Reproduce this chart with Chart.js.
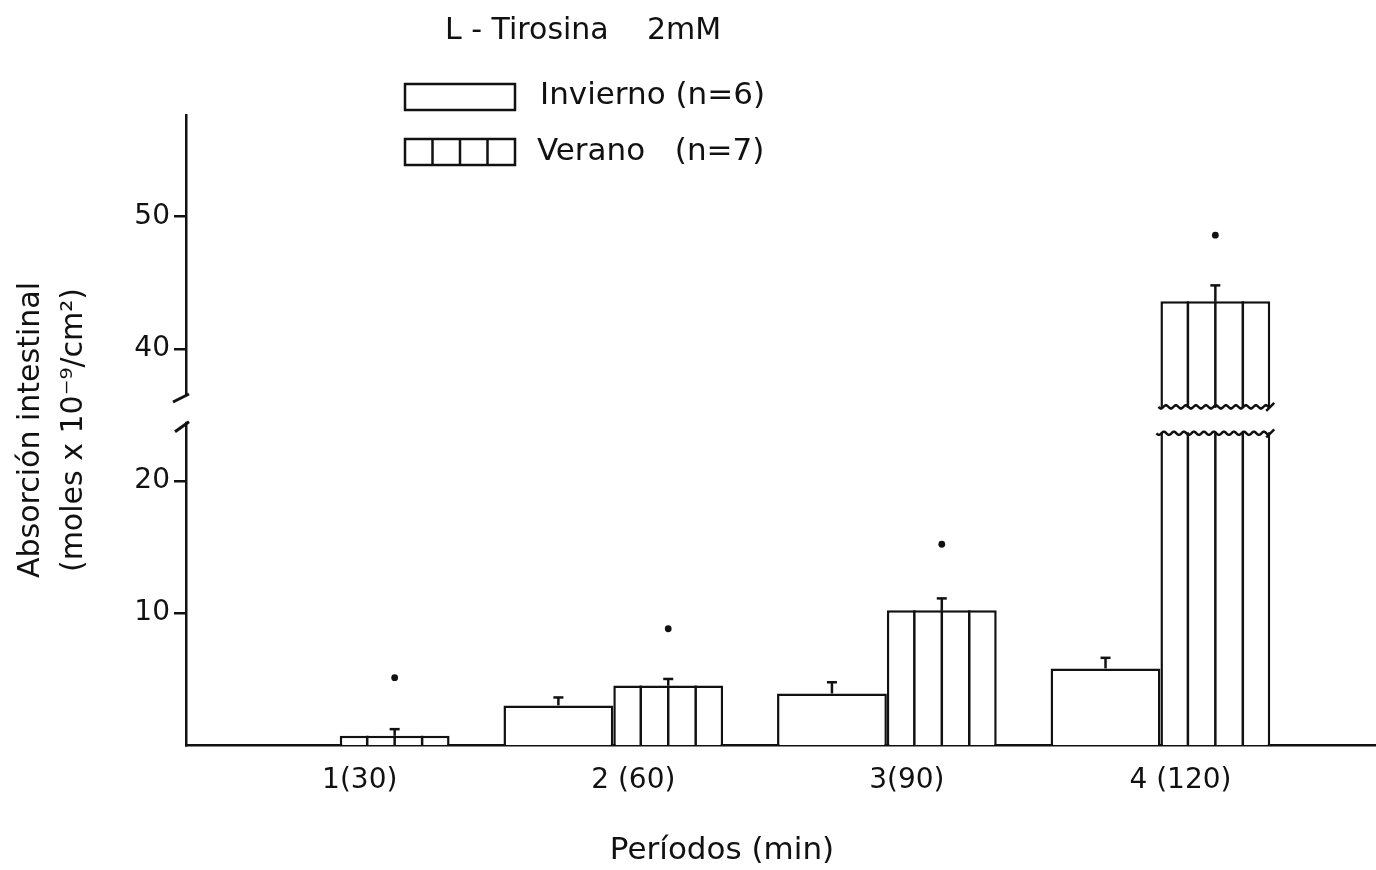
<!DOCTYPE html>
<html>
<head>
<meta charset="utf-8">
<script src="https://cdn.jsdelivr.net/npm/chart.js@4.4.1/dist/chart.umd.min.js"></script>
<style>
html,body{margin:0;padding:0;background:#fff;}
#wrap{width:1376px;height:870px;}
</style>
</head>
<body>
<div id="wrap"><canvas id="c" width="1376" height="870"></canvas></div>
<script>
// ---- data ----
const categories = ['1(30)', '2 (60)', '3(90)', '4 (120)'];
const invierno   = [0, 3.0, 3.9, 5.8];
const inviernoSE = [0, 0.6, 0.85, 0.8];
const verano     = [0.7, 4.5, 10.2, 43.6];
const veranoSE   = [0.5, 0.5, 0.9, 1.2];
const significance = [5.1, 8.8, 15.2, 48.6];   // "•" marks above Verano bars
const yTickValues = [10, 20, 40, 50];
const axisBreak = [34.4, 36.5];   // gap on the y axis (data units)
const barBreak  = [33.6, 35.6];   // gap drawn in tall bar (data units)
const BREAK_SHIFT = 10;           // values above 30 are shifted down by this

const toLin = v => v > 30 ? v - BREAK_SHIFT : v;
const fromLin = v => v > 20 ? v + BREAK_SHIFT : v;

const FONT = '"DejaVu Sans", "Liberation Sans", sans-serif';
const INK = '#111';
const LW = 2.5;

function line(ctx, x1, y1, x2, y2) { ctx.beginPath(); ctx.moveTo(x1, y1); ctx.lineTo(x2, y2); ctx.stroke(); }
function wavy(ctx, x1, x2, y) {
  ctx.beginPath();
  for (let x = x1; x <= x2; x += 1) {
    const yy = y + 1.6 * Math.sin((x - x1) / 10 * 2 * Math.PI);
    if (x === x1) ctx.moveTo(x, yy); else ctx.lineTo(x, yy);
  }
  ctx.stroke();
}

const decor = {
  id: 'decor',
  afterDatasetsDraw(chart) {
    const ctx = chart.ctx, ys = chart.scales.y;
    const mi = chart.getDatasetMeta(0), mv = chart.getDatasetMeta(1);
    ctx.save();
    ctx.strokeStyle = INK; ctx.fillStyle = INK; ctx.lineWidth = LW;
    // Verano vertical dividers
    mv.data.forEach(bar => {
      const l = bar.x - bar.width / 2;
      for (let k = 1; k < 4; k++) { const xx = l + bar.width * k / 4; line(ctx, xx, bar.y, xx, bar.base); }
    });
    // error bars
    [[mi, invierno, inviernoSE], [mv, verano, veranoSE]].forEach(([m, vals, se]) => {
      m.data.forEach((bar, i) => {
        if (!se[i]) return;
        const top = ys.getPixelForValue(toLin(vals[i] + se[i]));
        line(ctx, bar.x, bar.y, bar.x, top);
        line(ctx, bar.x - 5, top, bar.x + 5, top);
      });
    });
    // break in tall bar(s)
    mv.data.forEach((bar, i) => {
      if (verano[i] <= barBreak[1]) return;
      const yTop = ys.getPixelForValue(toLin(barBreak[1]));
      const yBot = ys.getPixelForValue(toLin(barBreak[0]));
      const l = bar.x - bar.width / 2, r = bar.x + bar.width / 2;
      ctx.fillStyle = '#fff';
      ctx.fillRect(l - 3, yTop + 1, bar.width + 6, yBot - yTop - 2);
      ctx.fillStyle = INK;
      wavy(ctx, l - 2, r, yTop);
      wavy(ctx, l - 4, r, yBot);
      line(ctx, r - 4, yTop + 4, r + 4, yTop - 4);
      line(ctx, r - 4, yBot + 4, r + 4, yBot - 4);
    });
    // significance dots
    mv.data.forEach((bar, i) => {
      ctx.beginPath();
      ctx.arc(bar.x, ys.getPixelForValue(toLin(significance[i])), 3.4, 0, Math.PI * 2);
      ctx.fill();
    });
    ctx.restore();
  },
  afterDraw(chart) {
    const ctx = chart.ctx, ys = chart.scales.y, ax = chart.chartArea.left;
    ctx.save();
    // y-axis break
    const yA = ys.getPixelForValue(toLin(axisBreak[1]));
    const yB = ys.getPixelForValue(toLin(axisBreak[0]));
    ctx.fillStyle = '#fff';
    ctx.fillRect(ax - 4, yA + 1, 8, yB - yA - 2);
    ctx.strokeStyle = INK; ctx.lineWidth = 3;
    line(ctx, ax - 13, yA + 7, ax + 3, yA - 1);
    line(ctx, ax - 11, yB + 9, ax + 3, yB - 1);
    // legend / title
    ctx.fillStyle = INK;
    ctx.textBaseline = 'middle';
    ctx.font = '30px ' + FONT;
    ctx.fillText('L - Tirosina    2mM', 445, 31);
    ctx.font = '31px ' + FONT;
    ctx.lineWidth = LW;
    ctx.strokeStyle = INK;
    ctx.strokeRect(405, 84, 110, 26);
    ctx.fillText('Invierno (n=6)', 540, 96);
    ctx.strokeRect(405, 139, 110, 26);
    for (let k = 1; k < 4; k++) { const xx = 405 + 110 * k / 4; line(ctx, xx, 139, xx, 165); }
    ctx.fillText('Verano   (n=7)', 537, 152);
    // x-axis title (centred where the original places it)
    ctx.font = '31px ' + FONT;
    ctx.textAlign = 'center';
    ctx.fillText('Períodos (min)', 722, 851);
    ctx.restore();
  }
};

new Chart(document.getElementById('c'), {
  type: 'bar',
  data: {
    datasets: [
      { label: 'Invierno (n=6)', data: invierno.map((v, i) => ({ x: i + 1, y: toLin(v) })),
        backgroundColor: '#fff', borderColor: INK, borderWidth: LW },
      { label: 'Verano (n=7)', data: verano.map((v, i) => ({ x: i + 1, y: toLin(v) })),
        backgroundColor: '#fff', borderColor: INK, borderWidth: LW }
    ]
  },
  options: {
    responsive: false,
    animation: false,
    devicePixelRatio: 1,
    layout: { padding: { top: 115, right: 0, left: 0, bottom: 0 } },
    datasets: { bar: { barPercentage: 1, categoryPercentage: 0.803 } },
    plugins: { legend: { display: false }, tooltip: { enabled: false } },
    scales: {
      x: {
        type: 'linear', min: 0.438, max: 4.788, offset: false,
        afterBuildTicks: s => { s.ticks = categories.map((c, i) => ({ value: i + 1 })); },
        afterFit: s => { s.height = 125; },
        grid: { display: false, offset: false },
        border: { color: INK, width: LW },
        ticks: { callback: v => categories[Math.round(v) - 1], color: INK, font: { family: FONT, size: 28 },
                 padding: 11, labelOffset: 20, maxRotation: 0, autoSkip: false },
        title: { display: false }
      },
      y: {
        min: 0, max: 47.7,
        afterBuildTicks: s => { s.ticks = yTickValues.map(v => ({ value: toLin(v) })); },
        afterFit: s => { s.width = 186; },
        grid: { drawOnChartArea: false, drawTicks: true, tickLength: 12, color: INK, lineWidth: LW },
        border: { color: INK, width: LW },
        ticks: { callback: v => String(fromLin(v)), color: INK, font: { family: FONT, size: 28 }, padding: 4 },
        title: { display: true, text: ['Absorción intestinal', '(moles x 10⁻⁹/cm²)'], color: INK,
                 font: { family: FONT, size: 30, lineHeight: 1.43 }, padding: { top: 10, bottom: 0 } }
      }
    }
  },
  plugins: [decor]
});
</script>
</body>
</html>
